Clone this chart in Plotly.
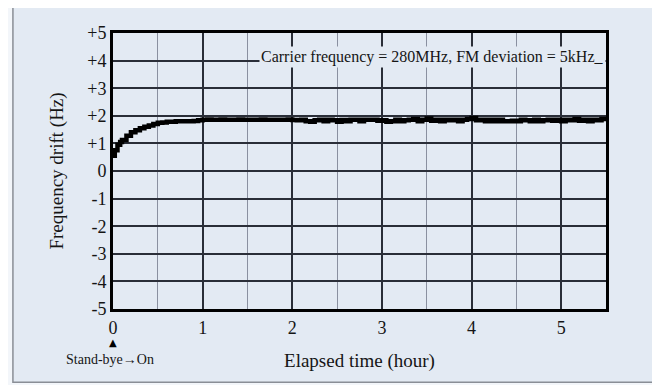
import plotly.graph_objects as go

# ---- data ----
warmup_t = [0.0, 0.02, 0.05, 0.08, 0.1, 0.15, 0.2, 0.25, 0.3, 0.35, 0.4, 0.45,
            0.5, 0.55, 0.6, 0.7, 0.8, 0.9, 0.95]
warmup_v = [0.55, 0.75, 0.95, 1.05, 1.12, 1.28, 1.4, 1.48, 1.55, 1.6, 1.65, 1.7,
            1.75, 1.76, 1.78, 1.8, 1.8, 1.81, 1.84]

stable_t = [round(1.0 + 0.05 * i, 2) for i in range(91)]
stable_v = [
    1.86, 1.87, 1.86, 1.86, 1.87, 1.86, 1.86, 1.86, 1.87, 1.86,
    1.86, 1.86, 1.86, 1.87, 1.86, 1.86, 1.86, 1.86, 1.86, 1.87,
    1.85, 1.84, 1.86, 1.80, 1.78, 1.84, 1.86, 1.80, 1.86, 1.84,
    1.78, 1.85, 1.80, 1.86, 1.86, 1.80, 1.86, 1.86, 1.86, 1.82,
    1.84, 1.78, 1.80, 1.86, 1.80, 1.84, 1.86, 1.88, 1.80, 1.86,
    1.90, 1.82, 1.86, 1.80, 1.86, 1.84, 1.86, 1.80, 1.86, 1.88,
    1.92, 1.84, 1.86, 1.80, 1.86, 1.80, 1.86, 1.80, 1.80, 1.82,
    1.80, 1.86, 1.84, 1.80, 1.86, 1.80, 1.84, 1.86, 1.82, 1.86,
    1.80, 1.86, 1.84, 1.88, 1.82, 1.86, 1.80, 1.86, 1.84, 1.88,
    1.84,
]

y_ticks = [5, 4, 3, 2, 1, 0, -1, -2, -3, -4, -5]
y_tick_text = ["+5", "+4", "+3", "+2", "+1", "0", "-1", "-2", "-3", "-4", "-5"]
x_ticks = [0, 1, 2, 3, 4, 5]
x_tick_text = ["0", "1", "2", "3", "4", "5"]

BG = "#e3eaf3"
FONT = "Liberation Serif"
TXT = "#151515"

t = warmup_t + stable_t
v = warmup_v + stable_v

fig = go.Figure()
fig.add_trace(go.Scatter(
    x=t, y=v, mode="lines", line=dict(color="#000000", width=4.5, shape="hv"),
    showlegend=False, hoverinfo="skip",
))

# page body has an 8px default margin, so the figure is sized/positioned to compensate
fig.update_layout(
    width=652, height=377,
    margin=dict(l=105, r=54, t=25, b=76, autoexpand=False),
    paper_bgcolor="#f3f6fa",
    plot_bgcolor=BG,
    font=dict(family=FONT, color=TXT),
    shapes=[dict(type="rect", xref="paper", yref="paper",
                 x0=-0.203, x1=1.095, y0=-0.265, y1=1.107,
                 fillcolor=BG, line=dict(color="#8a8e96", width=1.5),
                 layer="below")],
)

fig.update_xaxes(
    range=[0, 5.5], tickvals=x_ticks, ticktext=x_tick_text,
    showgrid=True, gridcolor="#2a2e38", gridwidth=1.5,
    minor=dict(dtick=0.5, showgrid=True, gridcolor="#8a90a0", gridwidth=1),
    showline=True, linecolor="#000000", linewidth=3, mirror=True,
    zeroline=False, ticks="", automargin=False,
    tickfont=dict(size=18, family=FONT, color=TXT),
    title=dict(text="Elapsed time (hour)", font=dict(size=19, family=FONT, color=TXT),
               standoff=18),
)
fig.update_yaxes(
    range=[-5, 5], tickvals=y_ticks, ticktext=y_tick_text,
    showgrid=True, gridcolor="#2a2e38", gridwidth=2,
    showline=True, linecolor="#000000", linewidth=3, mirror=True,
    zeroline=False, ticks="", automargin=False,
    tickfont=dict(size=18, family=FONT, color=TXT),
    title=dict(text="Frequency drift (Hz)", font=dict(size=19, family=FONT, color=TXT),
               standoff=19),
)

fig.add_annotation(
    x=5.5, y=4.13, xref="x", yref="y", xanchor="right", yanchor="middle",
    text="Carrier frequency = 280MHz, FM deviation = 5kHz_",
    showarrow=False, bgcolor=BG, borderpad=1,
    font=dict(size=16, family=FONT, color=TXT),
)
fig.add_annotation(
    x=0, y=-0.123, xref="x", yref="paper", xanchor="center", yanchor="middle",
    text="▲", showarrow=False, borderpad=0,
    font=dict(size=10, family="DejaVu Sans", color="#000000"),
)
fig.add_annotation(
    x=0, y=-0.183, xref="x", yref="paper", xanchor="center", yanchor="middle",
    xshift=-3, borderpad=0,
    text="Stand-bye→On", showarrow=False, font=dict(size=14, family=FONT, color=TXT),
)

fig.write_html("out.html")
